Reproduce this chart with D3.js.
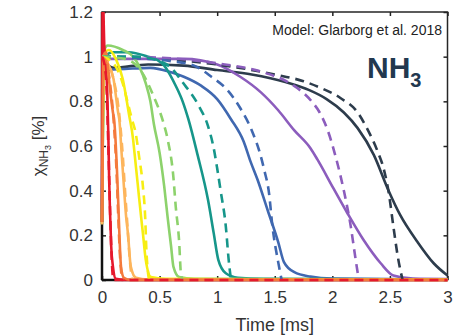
<!DOCTYPE html>
<html>
<head>
<meta charset="utf-8">
<script src="https://cdn.jsdelivr.net/npm/d3@7"></script>
<style>
  body { margin: 0; background: #fff; }
  text { font-family: "Liberation Sans", Arial, sans-serif; }
</style>
</head>
<body>
<svg id="chart" width="466" height="336"></svg>
<script>
// Measured (solid) and modelled (dashed) NH3 profiles, [time ms, mole fraction %]
const navyExp = [[0,0.26],[0.01,0.97],[0.1,0.95],[0.4,0.965],[0.71,0.96],[1.0,0.94],[1.3,0.92],[1.6,0.885],[1.8,0.85],[1.95,0.81],[2.1,0.75],[2.22,0.68],[2.36,0.56],[2.48,0.41],[2.59,0.29],[2.74,0.17],[2.88,0.075],[3.0,0.02]];
const navyModel = [[0,1],[0.5,0.99],[1.0,0.965],[1.5,0.92],[1.75,0.89],[1.9,0.86],[2.07,0.815],[2.22,0.75],[2.31,0.67],[2.39,0.58],[2.45,0.49],[2.49,0.39],[2.53,0.24],[2.57,0.1],[2.61,0]];
const purpleExp = [[0,0.26],[0.01,0.99],[0.43,0.99],[0.71,0.99],[1.0,0.965],[1.2,0.91],[1.38,0.84],[1.53,0.76],[1.67,0.67],[1.81,0.59],[1.87,0.54],[2.01,0.41],[2.13,0.3],[2.27,0.18],[2.42,0.075],[2.53,0.02],[2.7,0.006],[3,0.004]];
const purpleModel = [[0,1],[0.5,0.995],[1.0,0.97],[1.4,0.93],[1.6,0.89],[1.72,0.85],[1.82,0.8],[1.89,0.75],[1.96,0.67],[2.03,0.55],[2.1,0.4],[2.16,0.24],[2.2,0.1],[2.23,0]];
const blueExp = [[0,0.25],[0.01,0.94],[0.2,0.945],[0.42,0.95],[0.6,0.93],[0.71,0.91],[0.86,0.87],[1.0,0.81],[1.12,0.72],[1.23,0.62],[1.29,0.53],[1.35,0.45],[1.44,0.31],[1.53,0.17],[1.58,0.08],[1.67,0.035],[1.81,0.015],[2.0,0.006],[3,0.002]];
const blueModel = [[0,1],[0.4,0.99],[0.6,0.98],[0.8,0.96],[0.95,0.91],[1.09,0.85],[1.2,0.77],[1.3,0.67],[1.37,0.57],[1.41,0.49],[1.45,0.39],[1.48,0.24],[1.53,0.08],[1.56,0]];
const tealExp = [[0,0.26],[0.02,1.0],[0.1,1.02],[0.23,1.02],[0.4,1.0],[0.48,0.985],[0.54,0.96],[0.59,0.92],[0.64,0.87],[0.7,0.8],[0.75,0.72],[0.83,0.56],[0.92,0.36],[0.97,0.21],[1.01,0.09],[1.075,0.03],[1.18,0.01],[1.4,0.005],[3,0.002]];
const tealModel = [[0,1],[0.3,1.0],[0.5,0.98],[0.6,0.95],[0.7,0.885],[0.84,0.78],[0.92,0.69],[0.97,0.59],[1.0,0.5],[1.03,0.4],[1.075,0.24],[1.1,0.09],[1.12,0]];
const greenExp = [[0,0.26],[0.02,1.03],[0.05,1.05],[0.18,1.03],[0.27,1.0],[0.32,0.96],[0.38,0.88],[0.42,0.8],[0.45,0.7],[0.5,0.57],[0.54,0.42],[0.57,0.28],[0.6,0.15],[0.62,0.06],[0.67,0.013],[0.8,0.005],[3,0.002]];
const greenModel = [[0,1],[0.2,0.99],[0.3,0.96],[0.38,0.9],[0.45,0.82],[0.53,0.71],[0.57,0.63],[0.62,0.46],[0.64,0.33],[0.67,0.17],[0.685,0.03],[0.7,0]];
const yellowExp = [[0,0.25],[0.02,1.02],[0.06,1.03],[0.12,0.99],[0.18,0.9],[0.235,0.74],[0.27,0.63],[0.28,0.58],[0.31,0.43],[0.34,0.28],[0.355,0.21],[0.38,0.09],[0.425,0.013],[0.55,0.005],[3,0.002]];
const yellowModel = [[0,1],[0.1,0.97],[0.18,0.88],[0.225,0.79],[0.26,0.72],[0.295,0.65],[0.32,0.56],[0.355,0.42],[0.375,0.28],[0.385,0.14],[0.4,0.03],[0.41,0]];
const lightOrangeExp = [[0,0.25],[0.015,1.0],[0.05,0.97],[0.1,0.9],[0.14,0.75],[0.15,0.72],[0.17,0.57],[0.19,0.42],[0.21,0.28],[0.225,0.21],[0.25,0.06],[0.295,0.01],[0.4,0.002],[3,0]];
const lightOrangeModel = [[0,1],[0.05,0.97],[0.1,0.9],[0.15,0.74],[0.18,0.56],[0.2,0.4],[0.22,0.25],[0.24,0.1],[0.26,0.01],[0.27,0]];
const orangeExp = [[0,0.26],[0.01,1.0],[0.035,1.02],[0.06,0.9],[0.095,0.75],[0.105,0.72],[0.13,0.49],[0.14,0.36],[0.15,0.22],[0.165,0.06],[0.19,0.01],[0.25,0],[3,0]];
const orangeModel = [[0,1],[0.04,0.97],[0.07,0.88],[0.1,0.72],[0.125,0.5],[0.14,0.3],[0.155,0.12],[0.17,0.02],[0.18,0]];
const redExp = [[0,0.26],[0.006,1.3],[0.02,1.05],[0.03,0.97],[0.045,0.85],[0.055,0.65],[0.062,0.45],[0.07,0.3],[0.08,0.15],[0.095,0.06],[0.12,0.005],[0.2,0],[3,0]];
const redModel = [[0,1],[0.02,0.97],[0.04,0.85],[0.055,0.6],[0.068,0.35],[0.08,0.15],[0.09,0.04],[0.1,0],[3,0]];

const seriesColors = ["#2d3c4c", "#8c5dbd", "#4068b0", "#16968a", "#8dd26c", "#f7ee12", "#fdb55c", "#e6192d", "#f47a3c"];
const expData = [navyExp, purpleExp, blueExp, tealExp, greenExp, yellowExp, lightOrangeExp, redExp, orangeExp];
const modelData = [navyModel, purpleModel, blueModel, tealModel, greenModel, yellowModel, lightOrangeModel, orangeModel, redModel];
const modelColors = ["#2d3c4c", "#8c5dbd", "#4068b0", "#16968a", "#8dd26c", "#f7ee12", "#fdb55c", "#f47a3c", "#e6192d"];

const xTicks = [0, 0.5, 1, 1.5, 2, 2.5, 3];
const yTicks = [0, 0.2, 0.4, 0.6, 0.8, 1, 1.2];

const svg = d3.select("svg#chart");
const margin = {left: 102, right: 18.5, top: 12, bottom: 56};
const W = 466, H = 336;

const x = d3.scaleLinear().domain([0, 3]).range([margin.left, W - margin.right]);
const y = d3.scaleLinear().domain([0, 1.2]).range([H - margin.bottom, margin.top]);

// axes, MATLAB style with inward ticks
const fmt = d => d === 0 ? "0" : String(d);
const gx = svg.append("g").attr("transform", `translate(0,${y(0)})`)
    .call(d3.axisBottom(x).tickValues(xTicks).tickSize(-4).tickPadding(11).tickFormat(fmt));
const gy = svg.append("g").attr("transform", `translate(${x(0)},0)`)
    .call(d3.axisLeft(y).tickValues(yTicks).tickSize(-4).tickPadding(9).tickFormat(fmt));
const gxt = svg.append("g").attr("transform", `translate(0,${y(1.2)})`)
    .call(d3.axisTop(x).tickValues(xTicks).tickSize(-4).tickFormat(""));
const gyr = svg.append("g").attr("transform", `translate(${x(3)},0)`)
    .call(d3.axisRight(y).tickValues(yTicks).tickSize(-4).tickFormat(""));

[gx, gy, gxt, gyr].forEach(g => {
  g.select(".domain").remove();
  g.selectAll(".tick line").attr("stroke", "#222").attr("stroke-width", 1.5);
  g.selectAll(".tick text").attr("fill", "#333").style("font-size", "17px");
});

svg.append("rect")
    .attr("x", x(0)).attr("y", y(1.2))
    .attr("width", x(3) - x(0)).attr("height", y(0) - y(1.2))
    .attr("fill", "none").attr("stroke", "#262626").attr("stroke-width", 1.5);
svg.append("line").attr("x1", x(0)).attr("x2", x(0)).attr("y1", y(1.2)).attr("y2", y(0))
    .attr("stroke", "#111").attr("stroke-width", 2.5);
svg.append("line").attr("x1", x(0)).attr("x2", x(3)).attr("y1", y(0)).attr("y2", y(0))
    .attr("stroke", "#111").attr("stroke-width", 2.5);

// clip the curves to the axes box
svg.append("clipPath").attr("id", "plotClip")
  .append("rect")
    .attr("x", x(0) - 3).attr("y", y(1.2))
    .attr("width", x(3) - x(0) + 4).attr("height", y(0) - y(1.2) + 4);

const line = d3.line()
    .x(d => x(d[0]))
    .y(d => y(d[1]))
    .curve(d3.curveMonotoneX);

const plot = svg.append("g").attr("clip-path", "url(#plotClip)");

expData.forEach((data, i) => {
  plot.append("path")
      .attr("d", line(data))
      .attr("fill", "none")
      .attr("stroke", seriesColors[i])
      .attr("stroke-width", 2.6)
      .attr("stroke-linejoin", "round");
});

modelData.forEach((data, i) => {
  plot.append("path")
      .attr("d", line(data))
      .attr("fill", "none")
      .attr("stroke", modelColors[i])
      .attr("stroke-width", 2.6)
      .attr("stroke-dasharray", "9,6");
});

// labels
svg.append("text")
    .attr("x", (x(0) + x(3)) / 2).attr("y", 331)
    .attr("text-anchor", "middle").attr("fill", "#333")
    .style("font-size", "18px")
    .text("Time [ms]");

const ylab = svg.append("text")
    .attr("transform", `translate(44,${(y(0) + y(1.2)) / 2}) rotate(-90)`)
    .attr("text-anchor", "middle").attr("fill", "#333")
    .style("font-size", "17px");
ylab.append("tspan").text("χ");
ylab.append("tspan").attr("dy", 4).style("font-size", "12px").text("NH");
ylab.append("tspan").attr("dy", 3).style("font-size", "9px").text("3");
ylab.append("tspan").attr("dy", -7).text(" [%]");

svg.append("text")
    .attr("x", 442).attr("y", 35)
    .attr("text-anchor", "end").attr("fill", "#222")
    .style("font-size", "14px")
    .text("Model: Glarborg et al. 2018");

const species = svg.append("text")
    .attr("x", 367).attr("y", 78)
    .attr("fill", "#22384f")
    .style("font-size", "30px").style("font-weight", "bold");
species.append("tspan").text("NH");
species.append("tspan").attr("dy", 9).style("font-size", "20px").text("3");
</script>
</body>
</html>
